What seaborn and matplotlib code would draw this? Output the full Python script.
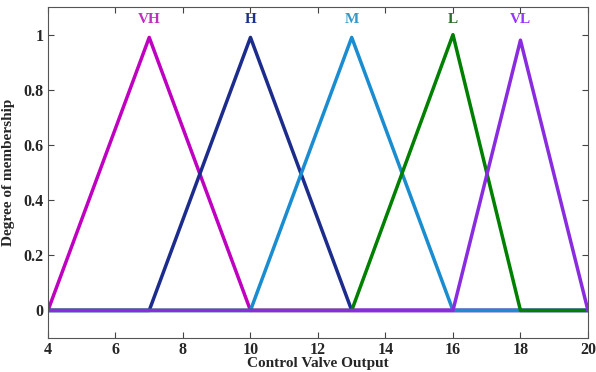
import matplotlib
matplotlib.use("Agg")
import matplotlib.pyplot as plt
import seaborn as sns
import pandas as pd

# membership functions: breakpoints (x) and degree (y), drawn over 4..20
labels = ["VH", "H", "M", "L", "VL"]
xs = [
    [4, 7, 10, 20],
    [4, 7, 10, 13, 20],
    [4, 10, 13, 16, 20],
    [4, 13, 16, 18, 20],
    [4, 16, 18, 20],
]
ys = [
    [0, 0.99, 0, 0],
    [0, 0, 0.99, 0, 0],
    [0, 0, 0.99, 0, 0],
    [0, 0, 1.0, 0, 0],
    [0, 0, 0.98, 0],
]
peaks = [7, 10, 13, 16, 18]
line_colors = ["#C000C0", "#1C2C8C", "#1A8CD0", "#008000", "#8A2BE2"]
text_colors = ["#C030C0", "#1A3090", "#3399CC", "#2E6B2E", "#9933FF"]

x_ticks = [4, 6, 8, 10, 12, 14, 16, 18, 20]
y_ticks = [0, 0.2, 0.4, 0.6, 0.8, 1]

sns.set_style("ticks")
plt.rcParams["font.family"] = ["Liberation Serif", "DejaVu Serif"]
plt.rcParams["font.weight"] = "bold"

fig = plt.figure(figsize=(5.96, 3.72), dpi=100)
ax = fig.add_axes([0.0805, 0.0914, 0.906, 0.8896])

for lab, x, y, c in zip(labels, xs, ys, line_colors):
    df = pd.DataFrame({"x": x, "y": y})
    sns.lineplot(data=df, x="x", y="y", color=c, linewidth=2.5, ax=ax,
                 sort=False, estimator=None)

for lab, p, c in zip(labels, peaks, text_colors):
    ax.text(p, 1.055, lab, color=c, ha="center", va="center",
            fontsize=11, fontweight="bold")

ax.set_xlim(4, 20)
ax.set_ylim(-0.1, 1.1)
ax.set_xticks(x_ticks)
ax.set_xticklabels([str(t) for t in x_ticks])
ax.set_yticks(y_ticks)
ax.set_yticklabels(["0", "0.2", "0.4", "0.6", "0.8", "1"])
ax.tick_params(direction="in", top=True, right=True, length=4, width=0.8,
               labelsize=11.5, color="#444444")
ax.tick_params(axis="x", pad=3)
ax.tick_params(axis="y", pad=3)
for s in ax.spines.values():
    s.set_color("#555555")
    s.set_linewidth(0.8)
ax.set_xlabel("Control Valve Output", fontsize=11, fontweight="bold", labelpad=-1)
ax.set_ylabel("Degree of membership", fontsize=11, fontweight="bold", labelpad=6)

fig.savefig("out.png", dpi=100)
